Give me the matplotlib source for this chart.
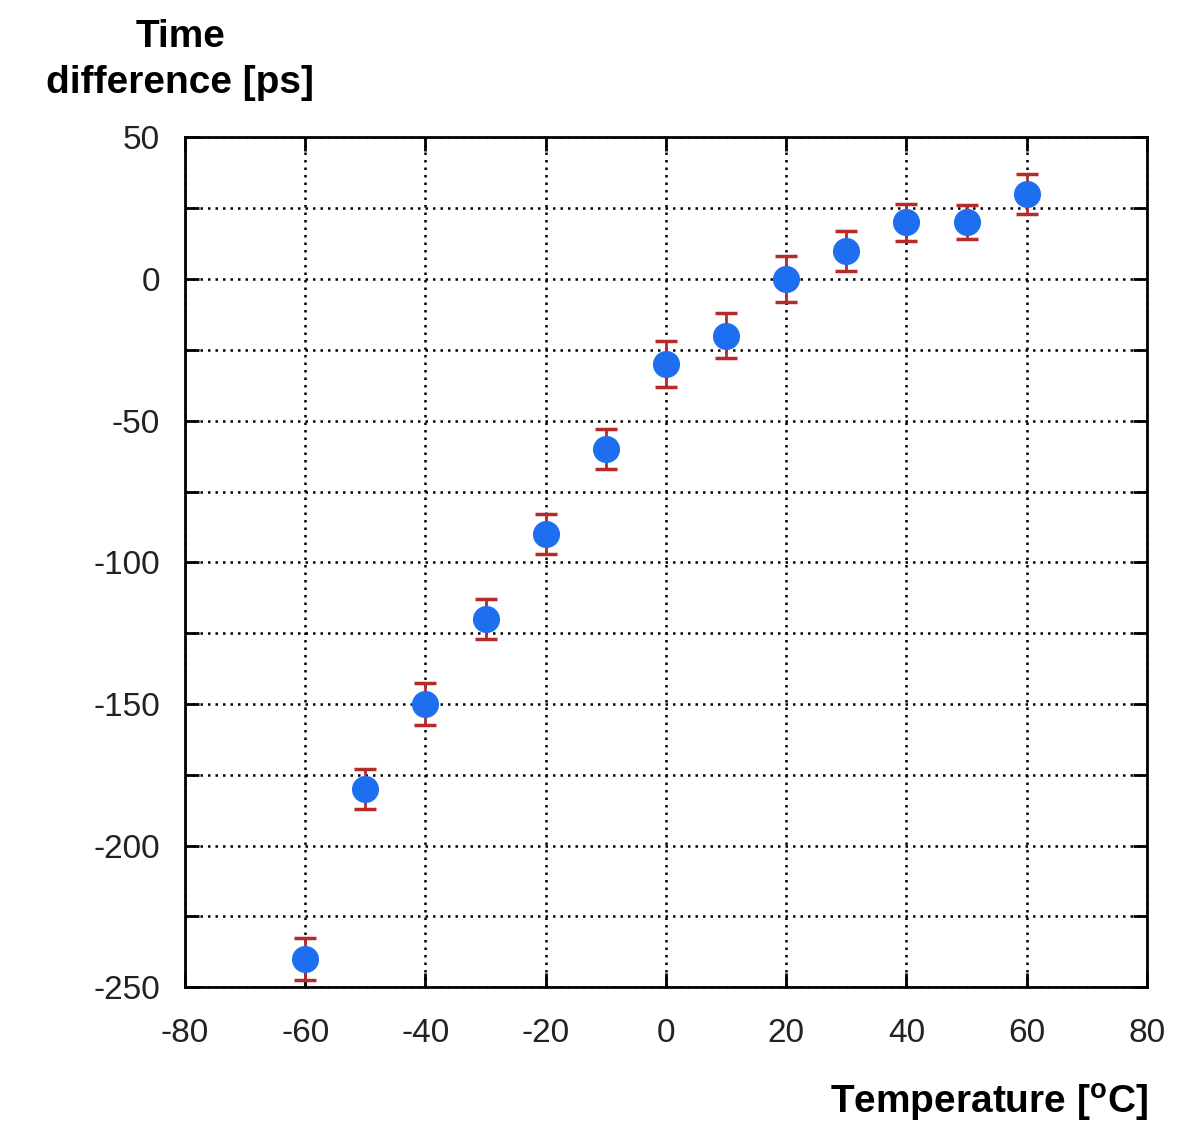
import numpy as np
import matplotlib.pyplot as plt

# temperature vs. time difference measurements
temperature = [-60, -50, -40, -30, -20, -10, 0, 10, 20, 30, 40, 50, 60]
time_diff = [-240, -180, -150, -120, -90, -60, -30, -20, 0, 10, 20, 20, 30]
time_err = [7.5, 7, 7.5, 7, 7, 7, 8, 8, 8, 7, 6.5, 6, 7]

x_ticks = [-80, -60, -40, -20, 0, 20, 40, 60, 80]
y_ticks = [-250, -200, -150, -100, -50, 0, 50]

plt.rcParams['font.family'] = ['Liberation Sans', 'DejaVu Sans']
plt.rcParams['axes.unicode_minus'] = False

fig = plt.figure(figsize=(12.01, 11.27), dpi=100)
ax = fig.add_axes([0.154, 0.124, 0.801, 0.754])

ax.errorbar(temperature, time_diff, yerr=time_err, fmt='none', ecolor='#b52a2a',
            elinewidth=2, capsize=8, capthick=2.5, zorder=3)
ax.plot(temperature, time_diff, 'o', color='#1e6ff0', markersize=18.5, zorder=4)

ax.set_xlim(-80, 80)
ax.set_ylim(-250, 50)
ax.set_xticks(x_ticks)
ax.set_yticks(y_ticks)
ax.set_yticks(np.arange(-225, 50, 50), minor=True)

ax.grid(True, which='both', color='black', linestyle=(0, (1, 2)), linewidth=1.8)
ax.tick_params(which='both', direction='in', length=10, width=2,
               top=True, right=True, labelsize=24, labelcolor='#222222')
ax.tick_params(axis='x', pad=22)
ax.tick_params(axis='y', pad=18)
for s in ax.spines.values():
    s.set_linewidth(2)

fig.text(0.150, 0.947, 'Time\ndifference [ps]', ha='center', va='center',
         fontsize=28, fontweight='bold', linespacing=1.35)
fig.text(0.956, 0.003, r'Temperature [$^{\mathregular{o}}$C]', ha='right', va='bottom',
         fontsize=28, fontweight='bold')

fig.savefig('out.png', dpi=100)
